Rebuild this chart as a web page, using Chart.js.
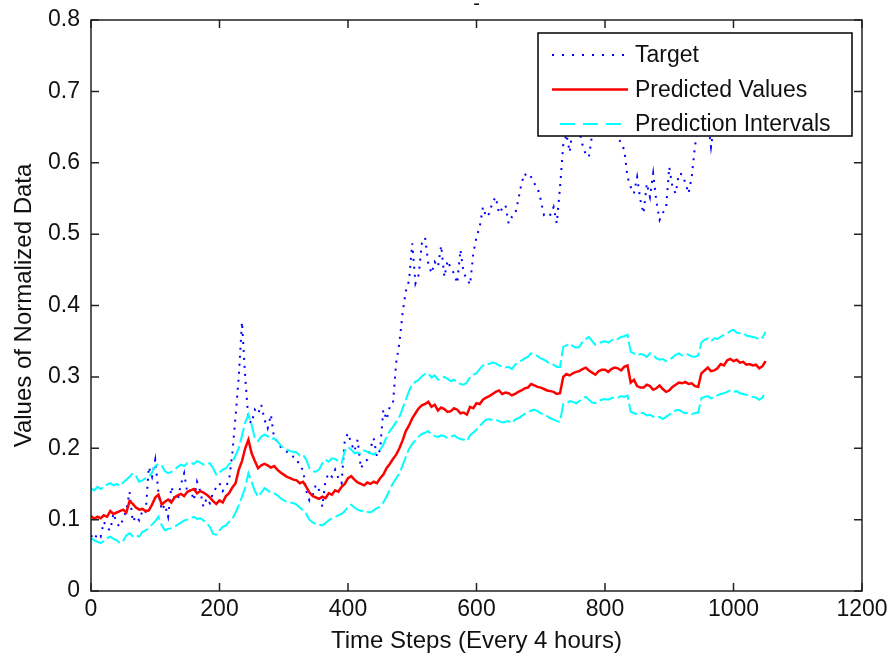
<!DOCTYPE html>
<html><head><meta charset="utf-8">
<script src="https://cdn.jsdelivr.net/npm/chart.js@4.4.0/dist/chart.umd.min.js"></script>
<style>html,body{margin:0;padding:0;background:#fff}#wrap{width:889px;height:663px;position:relative}</style>
</head><body><div id="wrap"><canvas id="c"></canvas></div>
<script>
const timeSteps = [
0,5,10,15,20,25,30,35,40,45,
50,55,60,65,70,75,80,85,90,95,
100,105,110,115,120,125,130,135,140,145,
150,155,160,165,170,175,180,185,190,195,
200,205,210,215,220,225,230,235,240,245,
250,255,260,265,270,275,280,285,290,295,
300,305,310,315,320,325,330,335,340,345,
350,355,360,365,370,375,380,385,390,395,
400,405,410,415,420,425,430,435,440,445,
450,455,460,465,470,475,480,485,490,495,
500,505,510,515,520,525,530,535,540,545,
550,555,560,565,570,575,580,585,590,595,
600,605,610,615,620,625,630,635,640,645,
650,655,660,665,670,675,680,685,690,695,
700,705,710,715,720,725,730,735,740,745,
750,755,760,765,770,775,780,785,790,795,
800,805,810,815,820,825,830,835,840,845,
850,855,860,865,870,875,880,885,890,895,
900,905,910,915,920,925,930,935,940,945,
950,955,960,965,970,975,980,985,990,995,
1000,1005,1010,1015,1020,1025,1030,1035,1040,1045,
1050];

const target = [
.078,.072,.080,.076,.097,.088,.085,.109,.095,.090,
.101,.113,.139,.097,.105,.099,.112,.109,.174,.160,
.184,.137,.113,.121,.104,.146,.132,.127,.150,.165,
.137,.142,.127,.153,.140,.118,.130,.123,.138,.145,
.151,.140,.146,.156,.193,.245,.300,.377,.300,.240,
.235,.254,.248,.261,.240,.228,.247,.214,.210,.202,
.199,.195,.193,.188,.186,.174,.170,.140,.127,.134,
.149,.141,.118,.155,.165,.160,.170,.158,.151,.212,
.221,.207,.196,.212,.172,.180,.184,.200,.214,.188,
.198,.254,.240,.258,.263,.320,.347,.390,.420,.435,
.487,.431,.443,.487,.495,.459,.445,.461,.454,.484,
.440,.463,.452,.445,.431,.478,.445,.438,.429,.473,
.496,.510,.538,.524,.529,.545,.552,.529,.536,.541,
.515,.524,.527,.548,.571,.585,.578,.580,.571,.565,
.548,.527,.530,.527,.538,.515,.566,.625,.640,.615,
.650,.660,.645,.625,.612,.608,.640,.660,.655,.670,
.650,.640,.660,.645,.635,.628,.618,.580,.566,.557,
.580,.548,.529,.571,.552,.585,.545,.520,.530,.536,
.594,.566,.557,.585,.584,.572,.557,.580,.623,.650,
.670,.680,.660,.622,.655,.670,.690,.675,.660,.680,
.700,.690,.670,.680,.695,.705,.690,.680,.700,.690,
.710];

const predicted = [
.105,.101,.104,.102,.106,.104,.112,.108,.110,.112,
.114,.110,.126,.122,.117,.114,.115,.112,.113,.121,
.131,.135,.121,.125,.128,.124,.131,.134,.136,.133,
.139,.141,.143,.137,.140,.138,.135,.131,.126,.122,
.127,.124,.133,.137,.145,.151,.170,.182,.200,.212,
.193,.182,.172,.176,.178,.176,.173,.175,.170,.166,
.163,.160,.158,.156,.155,.151,.153,.146,.138,.133,
.131,.129,.132,.130,.137,.135,.141,.139,.146,.150,
.158,.161,.156,.152,.150,.148,.152,.150,.153,.151,
.158,.163,.172,.178,.185,.191,.200,.211,.224,.232,
.242,.249,.256,.260,.262,.265,.258,.261,.253,.257,
.255,.251,.252,.256,.254,.249,.250,.247,.258,.256,
.263,.262,.268,.271,.273,.276,.279,.281,.276,.278,
.277,.274,.276,.279,.281,.284,.285,.290,.288,.286,
.285,.283,.281,.280,.279,.276,.277,.300,.304,.302,
.305,.307,.308,.311,.313,.309,.306,.303,.308,.310,
.310,.307,.311,.313,.312,.309,.314,.316,.292,.296,
.287,.285,.285,.289,.287,.282,.284,.288,.283,.279,
.281,.286,.289,.292,.291,.293,.290,.291,.287,.286,
.305,.309,.313,.308,.309,.312,.318,.316,.323,.325,
.322,.324,.320,.321,.317,.318,.316,.317,.312,.315,
.322];

const upperPI = [
.144,.141,.146,.143,.146,.149,.151,.148,.150,.147,
.152,.156,.160,.165,.161,.153,.155,.158,.160,.166,
.175,.178,.176,.168,.165,.167,.170,.174,.177,.175,
.179,.180,.178,.182,.180,.177,.178,.179,.172,.163,
.166,.170,.172,.178,.180,.190,.200,.218,.236,.247,
.233,.214,.210,.216,.219,.217,.213,.214,.210,.204,
.200,.198,.196,.195,.194,.190,.191,.184,.172,.168,
.167,.170,.179,.184,.181,.186,.185,.182,.179,.196,
.202,.198,.193,.194,.192,.197,.195,.193,.191,.195,
.198,.205,.216,.224,.230,.237,.244,.256,.268,.280,
.290,.293,.296,.301,.304,.305,.299,.302,.296,.299,
.300,.297,.294,.296,.293,.290,.289,.292,.300,.303,
.305,.311,.316,.319,.318,.320,.319,.316,.314,.313,
.314,.311,.317,.320,.323,.326,.328,.333,.331,.329,
.326,.324,.321,.318,.317,.314,.314,.342,.344,.347,
.343,.341,.342,.349,.353,.356,.350,.345,.347,.349,
.350,.348,.351,.354,.353,.356,.357,.359,.335,.333,
.330,.332,.331,.328,.333,.331,.326,.324,.325,.322,
.324,.327,.331,.333,.330,.332,.331,.329,.328,.330,
.348,.352,.354,.350,.354,.353,.356,.359,.361,.364,
.366,.362,.361,.361,.358,.357,.356,.355,.352,.355,
.363];

const lowerPI = [
.074,.071,.069,.067,.070,.074,.076,.073,.071,.067,
.070,.078,.081,.077,.078,.076,.083,.085,.088,.093,
.098,.104,.092,.085,.087,.088,.090,.093,.096,.099,
.100,.102,.104,.101,.102,.099,.095,.090,.080,.079,
.085,.090,.092,.097,.101,.110,.120,.132,.145,.165,
.153,.140,.132,.138,.144,.141,.138,.137,.134,.130,
.127,.125,.124,.123,.121,.117,.113,.108,.100,.096,
.094,.093,.092,.095,.099,.102,.104,.106,.108,.112,
.118,.121,.117,.114,.112,.113,.111,.110,.113,.116,
.118,.124,.132,.142,.151,.158,.165,.176,.188,.199,
.206,.211,.216,.220,.222,.224,.219,.217,.216,.218,
.217,.214,.216,.218,.215,.213,.212,.210,.218,.222,
.226,.231,.236,.240,.241,.239,.240,.238,.236,.237,
.238,.235,.240,.242,.245,.248,.250,.253,.254,.252,
.249,.247,.245,.242,.240,.238,.237,.262,.263,.266,
.265,.263,.266,.270,.272,.268,.264,.263,.266,.268,
.269,.268,.270,.272,.271,.273,.272,.274,.251,.249,
.248,.250,.249,.246,.247,.244,.243,.244,.241,.244,
.247,.250,.253,.254,.251,.249,.250,.248,.249,.250,
.270,.272,.273,.270,.272,.274,.276,.277,.279,.281,
.279,.280,.277,.276,.275,.273,.272,.271,.268,.271,
.279];

const seriesLabels = ['Target', 'Predicted Values', 'Prediction Intervals'];
const chartTitle = '-';
const xAxisTitle = 'Time Steps (Every 4 hours)';
const yAxisTitle = 'Values of Normalized Data';

const FONT = "'Liberation Sans', Arial, Helvetica, sans-serif";
const TXT = '#111';
function pts(vals){ return vals.map((v,i)=>({x: timeSteps[i], y: v})); }

const matlabBox = {
  id: 'matlabBox',
  afterDatasetsDraw(chart){
    const ctx = chart.ctx, a = chart.chartArea;
    const xs = chart.scales.x, ys = chart.scales.y;
    ctx.save();
    // legend box
    const lr = a.right - 10, lt = a.top + 13, lw = 314, lh = 103;
    const ll = lr - lw;
    ctx.fillStyle = '#fff';
    ctx.fillRect(ll, lt, lw, lh);
    ctx.strokeStyle = '#000'; ctx.lineWidth = 1.5;
    ctx.strokeRect(ll, lt, lw, lh);
    const entries = chart.data.datasets.filter(d => !d.hideInLegend);
    ctx.font = '23px ' + FONT;
    ctx.textBaseline = 'middle';
    ctx.textAlign = 'left';
    entries.forEach((d, i) => {
      const yy = lt + 22 + i * 34.5;
      ctx.save();
      ctx.strokeStyle = d.borderColor;
      ctx.lineWidth = d.borderWidth;
      ctx.setLineDash(d.legendDash || []);
      ctx.beginPath();
      ctx.moveTo(ll + 14 + (d.legendInset || 0), yy);
      ctx.lineTo(ll + 90, yy);
      ctx.stroke();
      ctx.restore();
      ctx.fillStyle = TXT;
      ctx.fillText(d.label, ll + 97, yy + 1);
    });
    // frame with inward ticks
    ctx.strokeStyle = '#222'; ctx.lineWidth = 1.5;
    ctx.strokeRect(a.left, a.top, a.right - a.left, a.bottom - a.top);
    const L = 8;
    ctx.beginPath();
    xs.ticks.forEach(t => {
      const p = xs.getPixelForValue(t.value);
      ctx.moveTo(p, a.bottom); ctx.lineTo(p, a.bottom - L);
      ctx.moveTo(p, a.top); ctx.lineTo(p, a.top + L);
    });
    ys.ticks.forEach(t => {
      const p = ys.getPixelForValue(t.value);
      ctx.moveTo(a.left, p); ctx.lineTo(a.left + L, p);
      ctx.moveTo(a.right, p); ctx.lineTo(a.right - L, p);
    });
    ctx.stroke();
    ctx.restore();
  }
};

new Chart(document.getElementById('c'), {
  type: 'line',
  data: {
    datasets: [
      { label: seriesLabels[0], data: pts(target), borderColor: '#0000ff', borderWidth: 2,
        borderDash: [2, 6], legendDash: [2, 8], order: 4 },
      { label: seriesLabels[1], data: pts(predicted), borderColor: '#ff0000', borderWidth: 2.5, order: 3 },
      { label: seriesLabels[2], data: pts(upperPI), borderColor: '#00ffff', borderWidth: 2,
        borderDash: [15, 4], legendDash: [15, 8], legendInset: 8, order: 2 },
      { label: seriesLabels[2], data: pts(lowerPI), borderColor: '#00ffff', borderWidth: 2,
        borderDash: [15, 4], hideInLegend: true, order: 1 }
    ]
  },
  options: {
    responsive: true, maintainAspectRatio: false, animation: false, devicePixelRatio: 1,
    layout: { padding: { top: 0, right: 27, bottom: 0, left: 0 } },
    elements: { point: { radius: 0 }, line: { tension: 0, fill: false, borderCapStyle: 'butt' } },
    plugins: {
      legend: { display: false },
      tooltip: { enabled: false },
      title: { display: true, text: chartTitle, fullSize: false, color: TXT,
        font: { family: FONT, size: 20, lineHeight: 0.05, weight: 'normal' },
        padding: { top: 4, bottom: 15 } }
    },
    scales: {
      x: {
        type: 'linear', min: 0, max: 1200,
        grid: { display: false, drawTicks: false },
        border: { display: false },
        ticks: { stepSize: 200, color: TXT, padding: 5, maxRotation: 0, font: { family: FONT, size: 23 },
          callback: v => String(v) },
        title: { display: true, text: xAxisTitle, color: TXT, font: { family: FONT, size: 24 },
          padding: { top: 0, bottom: 7 } },
        afterFit: s => { s.height = 72; s.paddingRight = 20; s.paddingLeft = 10; }
      },
      y: {
        type: 'linear', min: 0, max: 0.8,
        grid: { display: false, drawTicks: false },
        border: { display: false },
        ticks: { stepSize: 0.1, color: TXT, padding: 11, font: { family: FONT, size: 23 },
          callback: v => String(Math.round(v * 10) / 10) },
        title: { display: true, text: yAxisTitle, color: TXT, font: { family: FONT, size: 24 },
          padding: { top: 10, bottom: 0 } },
        afterFit: s => { s.width = 91; s.paddingTop = 12; s.paddingBottom = 12; }
      }
    }
  },
  plugins: [matlabBox]
});
</script>
</body></html>
